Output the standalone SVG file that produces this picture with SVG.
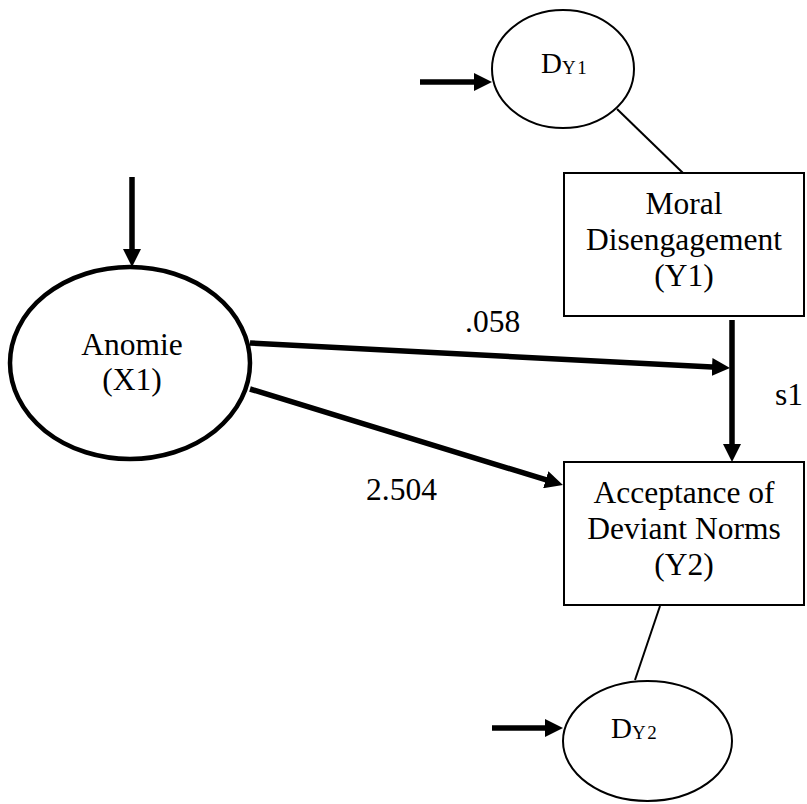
<svg xmlns="http://www.w3.org/2000/svg" width="807" height="804" viewBox="0 0 807 804">
<style>
  .t { font-family: "Liberation Serif", "Times New Roman", serif; font-size: 31.5px; fill: #000; text-anchor: middle; }
  .lbl { font-family: "Liberation Serif", "Times New Roman", serif; font-size: 31.5px; fill: #000; }
  .d { font-family: "Liberation Serif", "Times New Roman", serif; font-size: 29px; fill: #000; }
  .sub { font-size: 19px; letter-spacing: 1.5px; }
  .thin { fill: none; stroke: #000; stroke-width: 2; }
  .box { fill: #fff; stroke: #000; stroke-width: 2; }
  .thick { fill: none; stroke: #000; stroke-width: 5.5; }
</style>
<defs>
  <marker id="ah" markerUnits="userSpaceOnUse" markerWidth="18" markerHeight="18" refX="10" refY="9" orient="auto">
    <path d="M0,0 L18,9 L0,18 z" fill="#000"/>
  </marker>
</defs>
<rect width="807" height="804" fill="#fff"/>

<g id="connectors">
  <line class="thin" x1="617" y1="109" x2="683" y2="173"/>
  <line class="thin" x1="660" y1="606" x2="635" y2="680"/>
  <line class="thick" x1="420" y1="82" x2="484" y2="82" marker-end="url(#ah)"/>
  <line class="thick" x1="492" y1="728" x2="555" y2="728" marker-end="url(#ah)"/>
  <line class="thick" x1="132" y1="177" x2="132" y2="259" marker-end="url(#ah)"/>
  <line class="thick" x1="732" y1="320" x2="732" y2="454" marker-end="url(#ah)"/>
  <line class="thick" x1="250" y1="343" x2="722" y2="367.6" marker-end="url(#ah)"/>
  <line class="thick" x1="250" y1="389" x2="555.3" y2="482.7" marker-end="url(#ah)"/>
  <text class="lbl" x="465" y="332">.058</text>
  <text class="lbl" x="366" y="500">2.504</text>
  <text class="lbl" x="775" y="405">s1</text>
</g>

<g id="dy1">
  <ellipse class="thin" cx="563" cy="69" rx="71" ry="59" fill="#fff"/>
  <text class="d" x="541" y="73">D<tspan class="sub" dy="1">Y1</tspan></text>
</g>

<g id="anomie">
  <ellipse cx="130" cy="363" rx="120" ry="96" fill="#fff" stroke="#000" stroke-width="4.5"/>
  <text class="t" x="132" y="355">Anomie</text>
  <text class="t" x="132" y="390">(X1)</text>
</g>

<g id="moral">
  <rect class="box" x="564" y="173" width="240" height="143"/>
  <text class="t" x="684" y="214">Moral</text>
  <text class="t" x="684" y="250">Disengagement</text>
  <text class="t" x="684" y="286">(Y1)</text>
</g>

<g id="acceptance">
  <rect class="box" x="564" y="462" width="240" height="143"/>
  <text class="t" x="684" y="503">Acceptance of</text>
  <text class="t" x="684" y="539">Deviant Norms</text>
  <text class="t" x="684" y="575">(Y2)</text>
</g>

<g id="dy2">
  <ellipse class="thin" cx="647.5" cy="741" rx="84.5" ry="60" fill="#fff"/>
  <text class="d" x="611" y="738">D<tspan class="sub" dy="1">Y2</tspan></text>
</g>
</svg>
